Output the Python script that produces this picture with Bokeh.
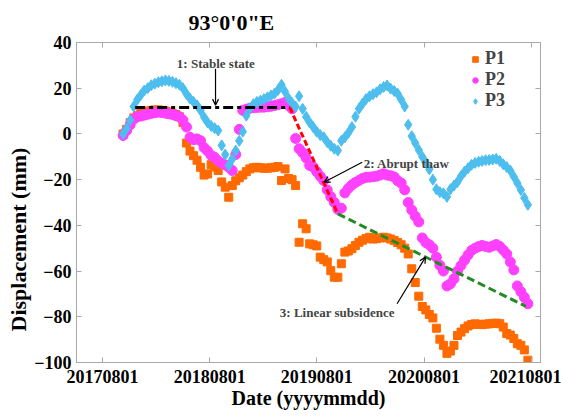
import numpy as np
import pandas as pd
from bokeh.plotting import figure
from bokeh.models import (FixedTicker, DatetimeTickFormatter, DatetimeAxis, LinearAxis,
                          Range1d, Label, Arrow, OpenHead, Legend, LegendItem, Title,
                          CustomJSTickFormatter)
from bokeh.embed import file_html
from bokeh.resources import INLINE

# Acquisition schedule: one scene every 12 days
START_DATE = "2017-10-10"
STEP_DAYS = 12

# Cumulative displacement (mm) for the three points
p1 = [0, 2, 5, 7, 8, 9, 9.5, 10, 10.3, 10.5,
      10.5, 10.3, 10, 9.6, 9, 8.5, 7.5, 5, -4, -7.5,
      -9.5, -11.5, -14.6, -18, -17.5, -13.5, -14.5, -16, -21, -23.3,
      -27.7, -22.6, -20.5, -19.2, -18, -16.5, -15.3, -14.8, -14.6, -14.8,
      -15, -15, -14.8, -14.6, -14.3, -20.4, -15.3, -19.5, -20, -22.6,
      -47.4, -39.3, -41.5, -48.1, -48.5, -49, -53.9, -55, -56, -59.8,
      -62.7, -62.7, -56.8, -51.7, -51.2, -50.2, -48.8, -47.4, -46.5, -45.8,
      -45.2, -46, -45.8, -45.5, -45.2, -45.5, -46, -46.6, -47.5, -48.5,
      -50, -52.5, -59, -65, -71, -75.5, -77, -79, -80.5, -85,
      -89.8, -92.5, -96, -95, -92.5, -88.2, -86.7, -85.2, -84, -83.4,
      -83.1, -83.3, -83.4, -83.2, -83.1, -82.9, -82.8, -83, -84.5, -87.3,
      -88, -89.5, -91.8, -92.5, -94.5, -99]

p2 = [-0.7, 1.5, 4, 6.5, 7.5, 7.8, 8.2, 8.6, 9, 9.3,
      9.5, 9.4, 9.1, 8.8, 8.5, 8, 7.5, 6, 3, -1.5,
      -2.5, -2.2, -3, -6, -7.5, -9.4, -10.2, -11.8, -12.8, -13.5,
      -14.6, -16, -9, 2, 10.3, 10.8, 11.2, 11.5, 11.6, 11.7,
      11.7, 11.9, 12.1, 12.4, 12.8, 13.2, 13.8, 12.5, 11, -2,
      -6.5, -8.2, -10.5, -13.8, -14.5, -16.5, -18.5, -20.4, -24.5, -27.5,
      -30, -33, -32.5, -25.8, -23.8, -22.3, -21.2, -20.4, -19.5, -19,
      -18.9, -18.7, -18.5, -18, -17.4, -18, -18.3, -18.8, -20.5, -21.5,
      -24.5, -30, -33.3, -36, -38.5, -45.5, -47.5, -48.5, -50, -53.9,
      -57.5, -60, -66.5, -65.6, -63.4, -60, -57.6, -55.2, -53, -51,
      -50, -49.3, -48.8, -49.2, -49.6, -49, -48.4, -49.2, -50.8, -52.5,
      -56, -59.5, -66.5, -69, -71.5, -74.3]

p3 = [0, 2.5, 6, 12, 15, 17, 19, 20, 21.3, 22,
      22.6, 23, 23.4, 23.2, 22.8, 22.2, 21.5, 20, 17.5, 15.5,
      14, 12.5, 10.3, 7.3, 5, 3.5, 2.5, 1.5, -5, -9,
      -13.8, -11, -7.3, -3, 1, 8, 11.2, 13, 14, 14.6,
      15.2, 16, 16.8, 17.6, 19.2, 21.5, 18.5, 15.5, 13.5, 12,
      16.5, 11, 7.5, 5, 3, 1, -0.5, -1.5, -3.6, -5.2,
      -6.5, -7.3, -3, -1.5, 0.5, 3, 7.5, 11, 13.2, 15.2,
      16.5, 17.4, 18.2, 19.5, 20.5, 21.2, 19.8, 18.8, 17.6, 15,
      12, 4, -1, -4, -7, -10, -12.5, -15.5, -20, -24.2,
      -25.5, -26, -27.5, -24.2, -22.6, -21, -18.5, -16.5, -15, -13.5,
      -12.7, -12.2, -11.8, -11.5, -11.4, -11.2, -10.9, -11.8, -13.3, -14.5,
      -16, -18.7, -21.5, -24.5, -28, -31]

# Axis ticks
x_ticks = ["2017-08-01", "2018-08-01", "2019-08-01", "2020-08-01", "2021-08-01"]
y_ticks = [-100, -80, -60, -40, -20, 0, 20, 40]

# Stage trend segments (dates, displacement)
stable_dates, stable_vals = ["2017-11-20", "2019-05-01"], [11.6, 11.6]
thaw_dates, thaw_vals = ["2019-05-01", "2019-10-12"], [11.6, -35.0]
linear_dates, linear_vals = ["2019-10-12", "2021-07-14"], [-35.0, -75.4]

FONT = "Liberation Serif"
GRAY = "#A8A8A8"


def ms(d):
    return pd.Timestamp(d).value / 1e6


dates = pd.Timestamp(START_DATE) + pd.to_timedelta(np.arange(len(p1)) * STEP_DAYS, unit="D")

p = figure(width=561, height=416, x_axis_type="datetime",
           x_range=Range1d(ms("2017-05-04"), ms("2021-09-02")),
           y_range=Range1d(-100, 40),
           output_backend="svg", toolbar_location=None,
           min_border_left=76, min_border_right=21, min_border_top=42, min_border_bottom=54)
p.background_fill_color = "white"
p.border_fill_color = "white"
p.outline_line_color = GRAY
p.grid.visible = False

xt = FixedTicker(ticks=[ms(d) for d in x_ticks])
yt = FixedTicker(ticks=y_ticks)
fmt = "%Y%m%d"
xfmt = DatetimeTickFormatter(microseconds=fmt, milliseconds=fmt, seconds=fmt, minsec=fmt,
                             minutes=fmt, hourmin=fmt, hours=fmt, days=fmt, months=fmt, years=fmt)
blank = CustomJSTickFormatter(code="return ''")


def style_axis(ax):
    ax.axis_line_color = GRAY
    ax.major_tick_line_color = GRAY
    ax.major_tick_in = 5
    ax.major_tick_out = 0
    ax.minor_tick_line_color = None
    ax.major_label_text_font = FONT
    ax.major_label_text_font_style = "bold"
    ax.major_label_text_font_size = "18px"
    ax.major_label_text_color = "black"
    ax.axis_label_text_font = FONT
    ax.axis_label_text_font_style = "bold"
    ax.axis_label_text_font_size = "20px"
    ax.axis_label_text_color = "black"


xa = p.xaxis[0]
xa.ticker = xt
xa.formatter = xfmt
xa.axis_label = "Date (yyyymmdd)"
xa.major_label_standoff = 7
xa.axis_label_standoff = 1
style_axis(xa)

ya = p.yaxis[0]
ya.ticker = yt
ya.major_label_standoff = 5
style_axis(ya)

# Box ticks on the top and right edges, without labels
top = DatetimeAxis(ticker=xt, formatter=blank)
style_axis(top)
top.major_label_standoff = 0
top.axis_label_standoff = 0
p.add_layout(top, "above")
right = LinearAxis(ticker=yt, formatter=blank)
style_axis(right)
right.major_label_standoff = 0
p.add_layout(right, "right")

# Vertical axis title, nudged below the frame centre
p.add_layout(Title(text="Displacement (mm)", align="left", offset=31, text_font=FONT,
                   text_font_style="bold", text_font_size="22px", text_color="black",
                   standoff=2), "left")

# Heading
p.add_layout(Title(text="93°0'0\"E", align="left", offset=112, text_font=FONT,
                   text_font_style="bold", text_font_size="22px", text_color="black",
                   standoff=15), "above")

r1 = p.scatter(dates, p1, marker="square", size=8, color="#FF6A00")
r2 = p.scatter(dates, p2, marker="circle", size=10, color="#FF40FF")
r3 = p.scatter(dates, p3, marker="diamond", size=11, color="#4DBEEE")

# Stage trend lines
p.line([ms(d) for d in stable_dates], stable_vals, line_color="black", line_width=3,
       line_dash="10 4 4 4")
p.line([ms(d) for d in thaw_dates], thaw_vals, line_color="#FF0000", line_width=3,
       line_dash="6 3")
p.line([ms(d) for d in linear_dates], linear_vals, line_color="#228B22", line_width=3,
       line_dash="8 4")


# Stage annotations
def note(text, x, y, align):
    p.add_layout(Label(x=ms(x), y=y, text=text, text_font=FONT, text_font_style="bold",
                       text_font_size="13px", text_align=align, text_baseline="middle"))


def pointer(x0, y0, x1, y1):
    p.add_layout(Arrow(end=OpenHead(size=6, line_width=1.2, line_color="black"),
                       x_start=ms(x0), y_start=y0, x_end=ms(x1), y_end=y1,
                       line_width=1.2, line_color="black"))


note("1: Stable state", "2018-08-22", 31, "center")
pointer("2018-08-21", 28.5, "2018-08-21", 12.6)
note("2: Abrupt thaw", "2020-01-08", -13.1, "left")
pointer("2020-01-03", -12.4, "2019-08-26", -21.1)
note("3: Linear subsidence", "2019-10-10", -78, "center")
pointer("2020-05-01", -74.3, "2020-08-06", -53.9)

legend = Legend(items=[LegendItem(label="P1", renderers=[r1]),
                       LegendItem(label="P2", renderers=[r2]),
                       LegendItem(label="P3", renderers=[r3])],
                location=(392, 251), border_line_color=None, background_fill_alpha=0,
                label_text_font=FONT, label_text_font_style="bold", label_text_font_size="18px",
                glyph_width=14, glyph_height=20, label_height=20, label_standoff=3,
                spacing=0, padding=4)
p.add_layout(legend)

open("out.html", "w").write(file_html(p, INLINE))
